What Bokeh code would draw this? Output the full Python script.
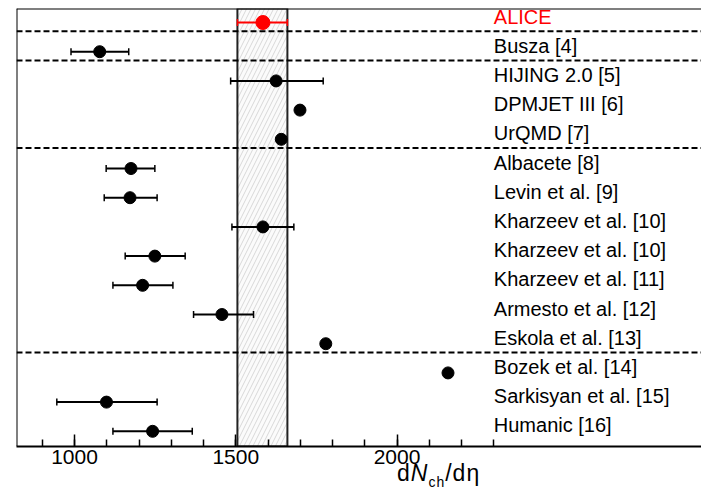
from bokeh.plotting import figure
from bokeh.models import Range1d, FixedTicker, Span, BoxAnnotation, Whisker, ColumnDataSource, TeeHead, Div
from bokeh.layouts import column
from bokeh.core.properties import value
from bokeh.embed import file_html
from bokeh.resources import INLINE

# ---- data ----
names = ["ALICE", "Busza [4]", "HIJING 2.0 [5]", "DPMJET III [6]", "UrQMD [7]",
         "Albacete [8]", "Levin et al. [9]", "Kharzeev et al. [10]", "Kharzeev et al. [10]",
         "Kharzeev et al. [11]", "Armesto et al. [12]", "Eskola et al. [13]",
         "Bozek et al. [14]", "Sarkisyan et al. [15]", "Humanic [16]"]
values = [1584, 1078, 1625, 1699, 1641, 1175, 1172, 1584, 1249, 1211, 1457, 1779, 2158, 1099, 1242]
err_lo = [1505, 989, 1484, None, None, 1098, 1092, 1488, 1157, 1119, 1369, None, None, 945, 1119]
err_hi = [1660, 1168, 1771, None, None, 1249, 1256, 1680, 1343, 1305, 1555, None, None, 1256, 1365]
alice_band = [1505, 1660]
group_ends = [0, 1, 4, 11]          # rows after which a dashed separator is drawn
major_ticks = [1000, 1500, 2000]
minor_ticks = list(range(900, 2400, 100))
x_title_html = 'd<i>N</i><sub style="font-size:14px">ch</sub>/d&eta;'

FONT = "Liberation Sans"
n = len(names)
rows = list(range(n))
x0, x1 = 820, 2944

p = figure(frame_width=685, frame_height=438, min_border_left=16, min_border_right=0,
           min_border_top=8, min_border_bottom=20,
           x_range=Range1d(x0, x1), y_range=Range1d(n - 0.48, -0.48),
           output_backend="svg", toolbar_location=None, tools="")
p.outline_line_color = None
p.xgrid.visible = False
p.ygrid.visible = False
p.yaxis.visible = False

ax = p.xaxis[0]
ax.ticker = FixedTicker(ticks=major_ticks, minor_ticks=minor_ticks)
ax.axis_line_width = 2
ax.axis_line_color = "black"
ax.major_tick_in = 12
ax.major_tick_out = 0
ax.minor_tick_in = 7
ax.minor_tick_out = 0
ax.major_tick_line_width = 1.5
ax.minor_tick_line_width = 1.5
ax.major_tick_line_color = "black"
ax.minor_tick_line_color = "black"
ax.major_label_text_font = FONT
ax.major_label_text_font_size = "21px"
ax.major_label_text_color = "black"
ax.major_label_standoff = 3

# ALICE band
band = BoxAnnotation(left=alice_band[0], right=alice_band[1], level="underlay",
                     fill_color="#fbfbfb", fill_alpha=1.0,
                     hatch_pattern="/", hatch_color="#d8d8d8", hatch_alpha=1.0,
                     hatch_scale=9, hatch_weight=1,
                     line_color="#222222", line_alpha=1.0, line_width=2)
p.add_layout(band)

# frame lines (left, top)
p.add_layout(Span(location=x0, dimension="height", line_color="black", line_width=2))
p.add_layout(Span(location=-0.48, dimension="width", line_color="black", line_width=2))

# group separators
for g in group_ends:
    p.add_layout(Span(location=g + 0.3, dimension="width", line_color="black",
                      line_width=2, line_dash="6 3"))

# error bars
eb_idx = [i for i in range(1, n) if err_lo[i] is not None]
eb = ColumnDataSource(dict(y=[rows[i] for i in eb_idx], lo=[err_lo[i] for i in eb_idx],
                           hi=[err_hi[i] for i in eb_idx]))
p.add_layout(Whisker(base="y", lower="lo", upper="hi", dimension="width", source=eb,
                     line_color="black", line_width=2,
                     upper_head=TeeHead(size=7, line_width=1.5, line_color="black"),
                     lower_head=TeeHead(size=7, line_width=1.5, line_color="black")))
al = ColumnDataSource(dict(y=[rows[0]], lo=[err_lo[0]], hi=[err_hi[0]]))
p.add_layout(Whisker(base="y", lower="lo", upper="hi", dimension="width", source=al,
                     line_color="red", line_width=2,
                     upper_head=TeeHead(size=7, line_width=1.5, line_color="red"),
                     lower_head=TeeHead(size=7, line_width=1.5, line_color="red")))

# markers
p.scatter(x=values[1:], y=rows[1:], size=12, color="black")
p.scatter(x=values[:1], y=rows[:1], size=14, color="red")

# row labels
lab_src = ColumnDataSource(dict(x=[2300] * n, y=[r - 0.2 for r in rows], t=names,
                                c=["red"] + ["black"] * (n - 1)))
p.text(x="x", y="y", text="t", text_color="c", source=lab_src,
       text_font=value(FONT), text_font_size="20px", text_baseline="middle", text_align="left")

# axis title below the plot
title = Div(text='<span style="display:inline-block; margin-left:397px; position:relative; top:-3px; '
                 'font-family:\'Liberation Sans\'; font-size:23px; line-height:20px; '
                 'letter-spacing:1px; color:black;">'
                 + x_title_html + '</span>',
            width=701, height=19, margin=(0, 0, 0, 0))

layout = column(p, title, spacing=0)
open("out.html", "w").write(file_html(layout, INLINE))
